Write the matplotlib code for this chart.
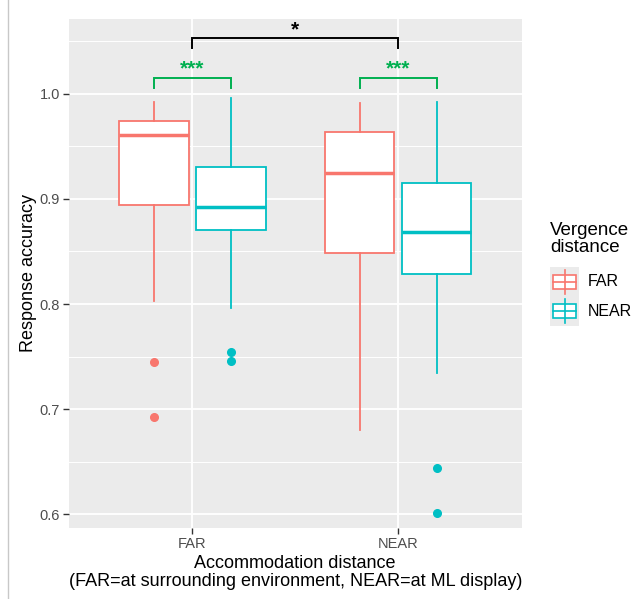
import numpy as np
import matplotlib
matplotlib.use("Agg")
import matplotlib.pyplot as plt
from matplotlib.patches import Rectangle
from matplotlib.lines import Line2D

plt.rcParams['font.family'] = ['Liberation Sans', 'DejaVu Sans']

# accommodation distance groups on x, vergence distance as fill/colour
accom = ['FAR', 'NEAR']
verg = ['FAR', 'NEAR']

# box stats: whislo, q1, median, q3, whishi
far_far = [0.803, 0.894, 0.961, 0.974, 0.992]
far_near = [0.796, 0.870, 0.892, 0.930, 0.996]
near_far = [0.680, 0.849, 0.9245, 0.964, 0.991]
near_near = [0.734, 0.829, 0.869, 0.915, 0.992]

far_far_out = [0.745, 0.692]
far_near_out = [0.7546, 0.746]
near_far_out = []
near_near_out = [0.6435, 0.6006]

# significance labels
sig_within = '***'
sig_between = '*'

cols = {'FAR': '#F8766D', 'NEAR': '#00BFC4'}
green = '#00B050'

W, H = 642, 599
fig = plt.figure(figsize=(W / 100, H / 100), dpi=100)
ax = fig.add_axes([69 / W, 1 - 528 / H, (521.5 - 69) / W, (528 - 19) / H])
ax.set_facecolor('#EBEBEB')

def mk(s, fl):
    return dict(whislo=s[0], q1=s[1], med=s[2], q3=s[3], whishi=s[4], fliers=fl)

stats = {('FAR', 'FAR'): mk(far_far, far_far_out),
         ('FAR', 'NEAR'): mk(far_near, far_near_out),
         ('NEAR', 'FAR'): mk(near_far, near_far_out),
         ('NEAR', 'NEAR'): mk(near_near, near_near_out)}

dodge = 0.1875
bw = 0.3375
for i, a in enumerate(accom):
    for j, v in enumerate(verg):
        pos = i + 1 + (-dodge if j == 0 else dodge)
        c = cols[v]
        ax.bxp([stats[(a, v)]], positions=[pos], widths=bw, patch_artist=True,
               showcaps=False,
               boxprops=dict(facecolor='white', edgecolor=c, linewidth=1.3),
               whiskerprops=dict(color=c, linewidth=1.3),
               medianprops=dict(color=c, linewidth=2.5, solid_capstyle='butt'),
               flierprops=dict(marker='o', markerfacecolor=c, markeredgecolor=c,
                               markersize=5.5, linestyle='none'),
               zorder=3)

ax.set_xlim(0.4, 2.6)
ax.set_ylim(0.5867, 1.0714)
ax.set_xticks([1, 2])
ax.set_xticklabels(accom)
ax.set_yticks([0.6, 0.7, 0.8, 0.9, 1.0])
ax.set_yticklabels(['0.6', '0.7', '0.8', '0.9', '1.0'])
ax.set_yticks([0.65, 0.75, 0.85, 0.95, 1.05], minor=True)
ax.grid(True, which='major', color='white', linewidth=1.3, zorder=0)
ax.grid(True, which='minor', axis='y', color='white', linewidth=0.7, zorder=0)
ax.set_axisbelow(True)
for s in ax.spines.values():
    s.set_visible(False)
ax.tick_params(axis='both', which='major', length=4, width=1, color='#333333',
               labelcolor='#4D4D4D', labelsize=10.5, pad=2.5)
ax.tick_params(axis='both', which='minor', length=0)

ax.set_xlabel('Accommodation distance\n(FAR=at surrounding environment, NEAR=at ML display)',
              fontsize=13, labelpad=3, linespacing=1.05)
ax.set_ylabel('Response accuracy', fontsize=13, labelpad=2)

# brackets
def bracket(x1, x2, ytop, ybot, label, color, ly, lw=1.4, fs=15):
    ax.plot([x1, x1, x2, x2], [ybot, ytop, ytop, ybot], color=color, lw=lw,
            solid_joinstyle='miter', zorder=4, clip_on=False)
    ax.text((x1 + x2) / 2, ly, label, color=color, ha='center', va='center',
            fontsize=fs, fontweight='bold')

bracket(1 - dodge, 1 + dodge, 1.0155, 1.006, sig_within, green, 1.0235)
bracket(2 - dodge, 2 + dodge, 1.0155, 1.006, sig_within, green, 1.0235)
bracket(1, 2, 1.053, 1.0435, sig_between, 'black', 1.0615)

# legend, drawn in pixel positions
def px(x, y):
    return x / W, 1 - y / H

fig.text(*px(550, 239), 'Vergence\ndistance', fontsize=13.5, ha='left', va='center',
         linespacing=1.0)
x0, y0 = px(550, 326)
fig.add_artist(Rectangle((x0, y0), 29 / W, 59 / H, transform=fig.transFigure,
                         facecolor='#EBEBEB', edgecolor='none'))
for lab, cy in zip(verg, [282, 311]):
    c = cols[lab]
    bx, by = px(553, cy + 7)
    fig.add_artist(Line2D([564.5 / W] * 2, [1 - (cy - 12) / H, 1 - (cy + 12) / H],
                          transform=fig.transFigure, color=c, lw=1.2))
    fig.add_artist(Rectangle((bx, by), 23 / W, 14 / H, transform=fig.transFigure,
                             facecolor='white', edgecolor=c, lw=1.2))
    fig.add_artist(Line2D([553 / W, 576 / W], [1 - cy / H] * 2,
                          transform=fig.transFigure, color=c, lw=1.2))
    fig.text(*px(588, cy), lab, fontsize=11.5, ha='left', va='center')

# thin border line at the left edge of the image
fig.add_artist(Line2D([8 / W] * 2, [0, 1], transform=fig.transFigure,
                      color='#C8C8C8', lw=1))

fig.savefig('out.png', dpi=100)
